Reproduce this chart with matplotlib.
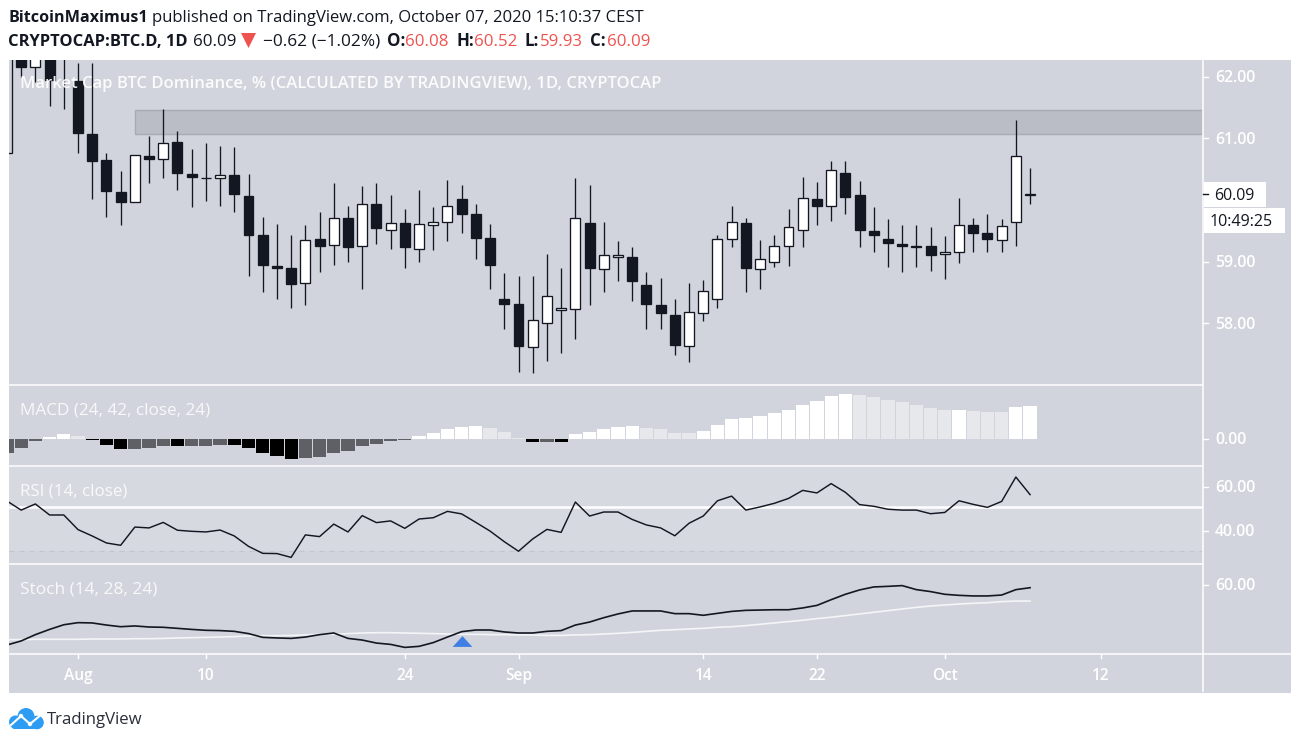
import matplotlib
matplotlib.use("Agg")
import matplotlib.pyplot as plt
from matplotlib.patches import Rectangle, Circle, Polygon, FancyBboxPatch

W, H = 1300, 743
BG = "#d1d4dc"; DARK = "#131722"; RED = "#ef5350"
plt.rcParams["font.family"] = ["Open Sans", "DejaVu Sans"]

# candle index 0 is 1 Aug 2020 (first entry is index -5)
first_index = -5
opens = [60.77, 62.60, 62.15, 62.45, 62.35,
         61.93, 61.07, 60.65, 60.13, 59.97, 60.71, 60.66, 60.94, 60.42, 60.35,
         60.35, 60.40, 60.06, 59.43, 58.93, 58.89, 58.65, 59.36, 59.27, 59.70,
         59.25, 59.93, 59.52, 59.62, 59.20, 59.59, 59.64, 60.01, 59.77, 59.38,
         58.39, 58.32, 57.61, 58.01, 58.21, 58.23, 59.62, 58.88, 59.07, 59.07,
         58.62, 58.29, 58.14, 57.64, 58.16, 58.39, 59.36, 59.62, 58.88, 59.00,
         59.25, 59.51, 60.01, 59.90, 60.43, 60.08, 59.49, 59.36, 59.28, 59.26,
         59.26, 59.12, 59.15, 59.59, 59.47, 59.35, 59.64, 60.08]
closes = [62.60, 62.16, 62.50, 61.94, 62.55,
          61.08, 60.64, 60.14, 59.97, 60.73, 60.67, 60.92, 60.43, 60.38, 60.35,
          60.40, 60.09, 59.44, 58.94, 58.90, 58.63, 59.35, 59.26, 59.70, 59.24,
          59.93, 59.54, 59.62, 59.23, 59.61, 59.65, 59.91, 59.78, 59.39, 58.94,
          58.32, 57.64, 58.05, 58.45, 58.25, 59.70, 58.89, 59.10, 59.10, 58.69,
          58.32, 58.16, 57.65, 58.18, 58.53, 59.36, 59.65, 58.89, 59.05, 59.25,
          59.56, 60.03, 59.91, 60.48, 60.05, 59.52, 59.44, 59.31, 59.26, 59.24,
          59.11, 59.16, 59.60, 59.47, 59.37, 59.58, 60.71, 60.09]
highs = [62.80, 62.90, 62.80, 62.80, 62.70,
         62.22, 62.22, 60.77, 60.47, 60.73, 61.03, 61.47, 61.12, 60.82, 60.92,
         60.87, 60.86, 60.42, 59.72, 59.61, 59.43, 59.59, 59.80, 60.27, 59.91,
         60.22, 60.27, 60.08, 59.85, 60.17, 59.88, 60.32, 60.24, 59.93, 59.61,
         58.81, 58.76, 58.76, 59.13, 58.90, 60.35, 60.25, 59.64, 59.33, 59.23,
         58.84, 58.73, 58.39, 58.65, 58.70, 59.44, 59.91, 59.70, 59.35, 59.44,
         59.85, 60.37, 60.29, 60.64, 60.63, 60.30, 59.88, 59.69, 59.60, 59.59,
         59.56, 59.41, 60.03, 59.70, 59.77, 59.69, 61.29, 60.52]
lows = [60.77, 62.00, 61.92, 61.53, 61.48,
        60.77, 60.02, 59.73, 59.59, 59.97, 60.27, 60.35, 60.17, 59.88, 59.99,
        59.91, 59.80, 58.77, 58.50, 58.39, 58.25, 58.29, 58.84, 58.95, 59.00,
        58.56, 59.29, 59.20, 58.90, 59.00, 59.19, 59.34, 59.47, 59.05, 58.55,
        57.91, 57.21, 57.20, 57.39, 57.52, 57.75, 58.30, 58.51, 58.69, 58.37,
        57.91, 57.90, 57.49, 57.38, 58.03, 58.25, 59.23, 58.50, 58.56, 58.92,
        58.93, 59.24, 59.60, 59.66, 59.78, 59.24, 59.16, 58.92, 58.84, 58.92,
        58.85, 58.72, 58.98, 59.16, 59.15, 59.15, 59.26, 59.93]

zone_low, zone_high = 61.066, 61.455
zone_start_index = 4

macd_hist = [-0.133, -0.083, -0.015, 0.023, 0.053, 0.033, -0.003, -0.057, -0.093, -0.093,
             -0.083, -0.067, -0.067, -0.067, -0.067, -0.057, -0.057, -0.083, -0.133, -0.163,
             -0.193, -0.183, -0.173, -0.133, -0.113, -0.067, -0.047, -0.017, -0.007, 0.033,
             0.063, 0.103, 0.123, 0.133, 0.113, 0.073, 0.013, -0.027, -0.027, -0.027,
             0.053, 0.073, 0.103, 0.123, 0.133, 0.113, 0.103, 0.063, 0.063, 0.083,
             0.143, 0.203, 0.213, 0.233, 0.263, 0.293, 0.343, 0.383, 0.433, 0.453,
             0.443, 0.423, 0.393, 0.373, 0.343, 0.313, 0.293, 0.293, 0.283, 0.273,
             0.273, 0.323, 0.333]
macd_kind = list("GGGWWLKKKGGGKGGGKKKKKGGGGGGGGWWWWWLLLKGK"
                 "WWWWWLLLLWWWWWWWWWWWLLLLLLLWLLLWW")

rsi = [53.4, 49.1, 52.0, 46.8, 46.8, 39.9, 36.9, 33.6, 32.5, 41.1, 40.7, 43.3, 39.6, 39.1, 38.8,
       39.7, 36.9, 32.0, 28.7, 28.6, 26.8, 37.4, 36.6, 42.5, 38.8, 46.5, 43.2, 44.0, 40.5, 44.9,
       45.5, 48.5, 47.3, 43.3, 39.2, 34.2, 29.7, 35.5, 40.0, 38.6, 52.9, 46.3, 48.2, 48.2, 44.7,
       42.1, 40.7, 37.0, 42.9, 46.3, 53.5, 55.7, 49.1, 50.6, 52.3, 54.6, 58.4, 57.2, 61.6, 57.5,
       51.7, 50.9, 49.5, 49.1, 49.1, 47.4, 48.0, 53.5, 51.8, 50.4, 53.2, 64.7, 56.4]
rsi_level = 50.57
rsi_lower = 30
rsi_upper = 70

stoch_k = [20.0, 22.7, 26.9, 30.4, 33.5, 34.9, 34.7, 33.3, 32.2, 32.7, 32.0, 31.8, 31.1, 30.4, 29.8,
           29.6, 29.1, 27.6, 25.1, 24.7, 24.4, 25.3, 26.9, 28.0, 24.4, 23.3, 21.3, 20.4, 18.4, 19.1,
           21.6, 25.3, 28.9, 30.0, 30.0, 28.7, 28.0, 28.0, 29.1, 29.6, 33.3, 35.3, 38.2, 40.7, 42.7,
           42.7, 42.7, 40.9, 40.9, 39.8, 41.1, 42.4, 43.1, 43.3, 43.5, 43.5, 44.7, 46.4, 50.2, 53.8,
           56.7, 58.7, 59.1, 59.6, 56.9, 55.6, 53.8, 53.1, 52.7, 52.7, 53.3, 56.9, 58.2]
stoch_d = [23.6, 23.6, 23.8, 23.8, 23.8, 23.8, 24.0, 24.0, 24.0, 24.2, 24.2, 24.4, 24.7, 24.9, 25.1,
           25.3, 25.6, 26.0, 26.2, 26.2, 26.4, 26.7, 27.1, 27.1, 27.6, 28.0, 28.2, 28.2, 28.0, 27.8,
           27.6, 27.3, 27.1, 27.1, 26.9, 26.9, 26.7, 26.7, 26.4, 26.4, 26.7, 26.9, 27.3, 27.8, 28.4,
           29.1, 29.8, 30.2, 30.7, 31.1, 31.8, 32.2, 32.9, 33.8, 34.7, 35.6, 36.5, 37.6, 38.5, 39.6,
           40.7, 41.8, 42.9, 44.0, 45.1, 46.0, 46.7, 47.3, 47.8, 48.2, 48.9, 49.3, 49.3]
signal_index, signal_value = 27, 22.7

date_ticks = [0, 9, 23, 31, 44, 52, 61, 72]
date_labels = ["Aug", "10", "24", "Sep", "14", "22", "Oct", "12"]
price_ticks = [58, 59, 60, 61, 62]
last_price = 60.09

n = len(opens)
idx = [first_index + k for k in range(n)]
PITCH, X0 = 14.21, 78.0
LEFT, RIGHT = 9, 1203
XLIM = ((LEFT - X0) / PITCH, (RIGHT - X0) / PITCH)

fig = plt.figure(figsize=(W / 100, H / 100), dpi=100, facecolor="white")

def pixel_axes(z):
    a = fig.add_axes([0, 0, 1, 1], zorder=z)
    a.set_xlim(0, W); a.set_ylim(H, 0); a.axis("off"); a.patch.set_alpha(0)
    return a

def pane(top, bottom, ylim):
    a = fig.add_axes([LEFT / W, 1 - bottom / H, (RIGHT - LEFT) / W, (bottom - top) / H], zorder=2)
    a.set_xlim(*XLIM); a.set_ylim(*ylim); a.axis("off"); a.patch.set_alpha(0)
    return a

back = pixel_axes(0)
over = pixel_axes(10)
back.add_patch(Rectangle((9, 60), 1282, 633, fc=BG, ec="none"))

# Main price pane
ax = pane(60, 385, (57.0, 62.27))
ax.add_patch(Rectangle((zone_start_index, zone_low), XLIM[1] - zone_start_index, zone_high - zone_low,
                       fc="#babdc6", ec="#a8abb4", lw=1.0))
up = [c >= o for o, c in zip(opens, closes)]
ax.vlines(idx, lows, highs, color=DARK, lw=0.95, zorder=3)
faces = [("#ffffff" if u else DARK) for u in up]
faces[0] = BG
ax.bar(idx, [c - o for o, c in zip(opens, closes)], bottom=opens, width=0.70,
       color=faces, edgecolor=DARK, linewidth=0.95, zorder=4)

# MACD
ax2 = pane(386, 466, (-0.267, 0.533))
cmap = {"W": "#ffffff", "L": "#e6e8ec", "G": "#5f6065", "K": "#000000"}
ax2.bar(idx, macd_hist, width=0.93, color=[cmap[k] for k in macd_kind], linewidth=0)

# RSI
ax3 = pane(467, 564, (23.68, 69.43))
ax3.axhspan(rsi_lower, rsi_upper, color="#ffffff", alpha=0.13, lw=0)
ax3.axhline(rsi_lower, color="#c2c5ce", lw=0.9, ls=(0, (4, 4)))
ax3.axhline(rsi_level, color="#ffffff", lw=1.8)
ax3.plot(idx, rsi, color=DARK, lw=1.05)

# Stoch
ax4 = pane(565, 654, (14.0, 73.33))
ax4.plot(idx, stoch_d, color="#f4f5f7", lw=1.2)
ax4.plot(idx, stoch_k, color=DARK, lw=1.2)
ax4.scatter([signal_index], [signal_value], marker=[(-1, -0.55), (1, -0.55), (0, 0.55)], s=200,
            color="#3f7fe3", linewidths=0, zorder=5)

# Separators
for y in (385, 466, 564, 654):
    over.plot([9, 1291 if y == 654 else 1203], [y, y], color="white", lw=1.1, solid_capstyle="butt")
over.plot([1203, 1203], [60, 692], color="white", lw=1.1, solid_capstyle="butt")

# Axis ticks and labels
def T(x, y, s, size=11.4, color="white", weight="normal", ha="left", **k):
    return over.text(x, y + 1.5, s, fontsize=size, color=color, fontweight=weight, ha=ha, va="center", **k)

for t, lab in zip(date_ticks, date_labels):
    x = X0 + PITCH * t
    over.plot([x, x], [654, 658], color="white", lw=1)
    T(x, 675, lab, weight="semibold", ha="center", size=11.2)

def price_y(p):
    return 60 + (62.27 - p) / (62.27 - 57.0) * 325

for p in price_ticks:
    if p == 60:
        continue
    y = price_y(p)
    over.plot([1203, 1208], [y, y], color="white", lw=1)
    T(1215, y, f"{p:.2f}", weight="semibold")

over.add_patch(Rectangle((1203.5, 182), 62.5, 25, fc="white", ec="none"))
over.add_patch(Rectangle((1203.5, 208), 81.5, 25, fc="white", ec="none"))
py = price_y(last_price)
over.plot([1203, 1208], [py, py], color=DARK, lw=1)
T(1214, py, f"{last_price:.2f}", color=DARK, size=11.4)
T(1210, 220.5, "10:49:25", color=DARK, size=11.6)

for y, s in ((439, "0.00"), (487, "60.00"), (531, "40.00"), (585, "60.00")):
    T(1215, y, s, weight="semibold")
    over.plot([1203, 1208], [y, y], color="white", lw=1)

# Pane titles
T(20, 83, "Market Cap BTC Dominance, % (CALCULATED BY TRADINGVIEW), 1D, CRYPTOCAP", size=11.95, weight="semibold", alpha=0.92)
T(20, 409, "MACD (24, 42, close, 24)", size=12.3, alpha=0.85)
T(20, 490, "RSI (14, close)", size=12.2, alpha=0.85)
T(20, 588, "Stoch (14, 28, 24)", size=12.4, alpha=0.85)

# Header
T(8, 17, "BitcoinMaximus1", size=11.6, color=DARK, weight="bold")
T(152, 17, "published on TradingView.com, October 07, 2020 15:10:37 CEST", size=12.0, color=DARK)
T(8, 40, "CRYPTOCAP:BTC.D, 1D", size=11.85, color=DARK, weight="bold")
T(193, 40, "60.09", size=12.2, color=DARK)
over.add_patch(Polygon([(241, 33), (256, 33), (248.5, 48)], fc=RED, ec="none"))
T(263, 40, "\u22120.62 (\u22121.02%)", size=12.4, color=DARK)
for x0, lab, x1, val in ((387, "O:", 405, "60.08"), (457, "H:", 474, "60.52"),
                         (525, "L:", 540, "59.93"), (590, "C:", 607, "60.09")):
    T(x0, 40, lab, size=12.2, color=DARK, weight="bold")
    T(x1, 40, val, size=12.2, color=RED)

# Logo
BLUE = "#2e9cf2"
for cx, cy, r in ((15.5, 722, 6.5), (26, 716.5, 8.5), (37, 722.5, 6.8)):
    over.add_patch(Circle((cx, cy), r, fc=BLUE, ec="none"))
over.add_patch(FancyBboxPatch((12, 720), 28, 8.5, boxstyle="round,pad=0.5,rounding_size=3", fc=BLUE, ec="none"))
over.plot([11, 21, 30, 42], [725, 716, 724, 714], color="white", lw=1.5)
for cx, cy in ((21, 716), (30, 724)):
    over.add_patch(Circle((cx, cy), 2.2, fc="white", ec="none"))
T(47, 718, "TradingView", size=12.1, color="#2a2e39")

fig.savefig("out.png", dpi=100, facecolor="white")
